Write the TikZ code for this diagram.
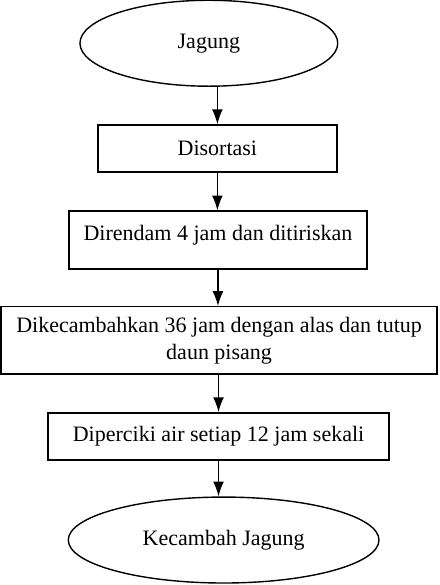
\documentclass[tikz,border=0pt]{standalone}
\usepackage{fontspec}
\setmainfont{Liberation Serif}
\usepackage{tikz}
\usetikzlibrary{shapes.geometric,arrows.meta}

\begin{document}
\begin{tikzpicture}[
  every node/.style={font=\fontsize{11}{13.5}\selectfont},
  stepbox/.style={draw=linecolor,line width=0.7pt,rectangle,inner sep=0pt,align=center},
  endcap/.style={draw=linecolor,line width=0.7pt,ellipse,inner sep=0pt},
  flowarrow/.style={draw=linecolor,line width=0.7pt,-{Latex[length=2.6mm,width=1.9mm]}}]
\definecolor{linecolor}{RGB}{0,0,0}
\definecolor{background}{RGB}{255,255,255}
\fill [background] (0,0) rectangle (7.73,10.28);
\useasboundingbox (0,0) rectangle (7.73,10.28);
\node [endcap,minimum width=4.53cm,minimum height=1.51cm] (jagung) at (3.67,9.52) {Jagung};
\node [stepbox,minimum width=4.20cm,minimum height=0.83cm] (disortasi) at (3.82,7.67) {Disortasi};
\node [stepbox,minimum width=5.24cm,text height=0.51cm,text depth=0.51cm] (direndam) at (3.83,6.06) {Direndam 4 jam dan ditiriskan};
\node [stepbox,minimum width=7.66cm,minimum height=1.18cm] (dikecambahkan) at (3.85,4.30) {Dikecambahkan 36 jam dengan alas dan tutup\\daun pisang};
\node [stepbox,minimum width=5.99cm,minimum height=0.83cm] (diperciki) at (3.84,2.61) {Diperciki air setiap 12 jam sekali};
\node [endcap,minimum width=5.46cm,minimum height=1.51cm] (kecambah) at (3.93,0.79) {Kecambah Jagung};
\draw [flowarrow] (disortasi.north |- jagung.south) -- (disortasi.north);
\draw [flowarrow] (disortasi.south) -- (disortasi.south |- direndam.north);
\draw [flowarrow] (direndam.south) -- (direndam.south |- dikecambahkan.north);
\draw [flowarrow] (diperciki.north |- dikecambahkan.south) -- (diperciki.north);
\draw [flowarrow] (diperciki.south) -- (diperciki.south |- kecambah.north);
\end{tikzpicture}
\end{document}
